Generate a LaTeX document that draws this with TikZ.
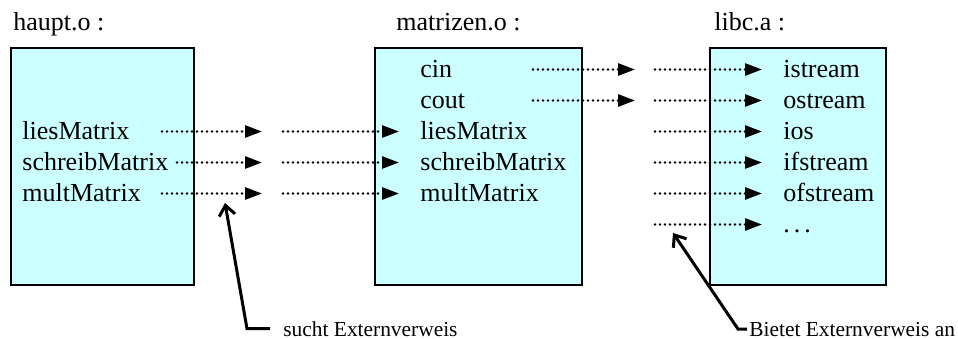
\documentclass[tikz,border=0pt]{standalone}
\usepackage{fontspec}
\setmainfont{Liberation Serif}
\usepackage{xcolor}
\usetikzlibrary{arrows.meta}
\definecolor{objcyan}{HTML}{CCFFFF}

\begin{document}
\begin{tikzpicture}[x=0.5pt,y=-0.5pt,
	box/.style={draw,line width=0.7pt,fill=objcyan,inner sep=0pt},
	sym/.style={anchor=base west,inner sep=0pt,font=\fontsize{13}{15}\selectfont},
	hint/.style={anchor=base west,inner sep=0pt,font=\fontsize{10.7}{12}\selectfont},
	ref/.style={line width=1.35pt,line cap=round,dash pattern=on 0pt off 2.5pt,-{Triangle[length=8.5pt,width=6pt]}},
	callout/.style={line width=1.5pt,line join=miter,{Straight Barb[length=5pt,width=8pt]}-}]
\useasboundingbox (0,0) rectangle (958,338);
	% object files
	\node[sym] at (13,30) (th) {haupt.o :};
	\node[sym] at (396,30) (tm) {matrizen.o :};
	\node[sym] at (714,30) (tl) {libc.a :};
	\node[box,minimum width=91.5pt,minimum height=118.5pt] at (102.5,166.5) (h) {};
	\node[box,minimum width=103.5pt,minimum height=118.5pt] at (478.5,166.5) (m) {};
	\node[box,minimum width=88pt,minimum height=118.5pt] at (798,166.5) (l) {};
	% symbols
	\node[sym] at (22,139) (h3) {liesMatrix};
	\node[sym] at (22,170) (h4) {schreibMatrix};
	\node[sym] at (22,201) (h5) {multMatrix};
	\node[sym] at (420,77) (m1) {cin};
	\node[sym] at (420,108) (m2) {cout};
	\node[sym] at (420,139) (m3) {liesMatrix};
	\node[sym] at (420,170) (m4) {schreibMatrix};
	\node[sym] at (420,201) (m5) {multMatrix};
	\node[sym] at (783,77) (l1) {istream};
	\node[sym] at (783,108) (l2) {ostream};
	\node[sym] at (783,139) (l3) {ios};
	\node[sym] at (783,170) (l4) {ifstream};
	\node[sym] at (783,201) (l5) {ofstream};
	\node[sym] at (783,232) (l6) {.\hspace{2pt}.\hspace{2pt}.};
	% references
	\foreach \k/\x in {3/162,4/177,5/162} {
		\coordinate (p\k) at (\x,{38.5+31*\k});
		\coordinate (q\k) at (262,{38.5+31*\k});
		\coordinate (r\k) at (283,{38.5+31*\k});
		\coordinate (s\k) at (399,{38.5+31*\k});
		\draw[ref] (p\k) -- (q\k);
		\draw[ref] (r\k) -- (s\k);
	}
	\foreach \k in {1,2} {
		\coordinate (u\k) at (533,{38.5+31*\k});
		\coordinate (v\k) at (635,{38.5+31*\k});
		\draw[ref] (u\k) -- (v\k);
	}
	\foreach \k in {1,...,6} {
		\coordinate (w\k) at (655,{38.5+31*\k});
		\coordinate (z\k) at (762,{38.5+31*\k});
		\draw[ref] (w\k) -- (z\k);
	}
	% notes
	\node[hint] at (283,336) (n1) {sucht Externverweis};
	\node[hint] at (749,336) (n2) {Bietet Externverweis an};
	\coordinate (c1) at (225,203);
	\coordinate (c2) at (673,233);
	\draw[callout] (c1) -- (247,0 |- n1.west) -- ([xshift=-6.5pt]n1.west);
	\draw[callout] (c2) -- (738,0 |- n2.west) -- ([xshift=-1pt]n2.west);
\end{tikzpicture}
\end{document}
